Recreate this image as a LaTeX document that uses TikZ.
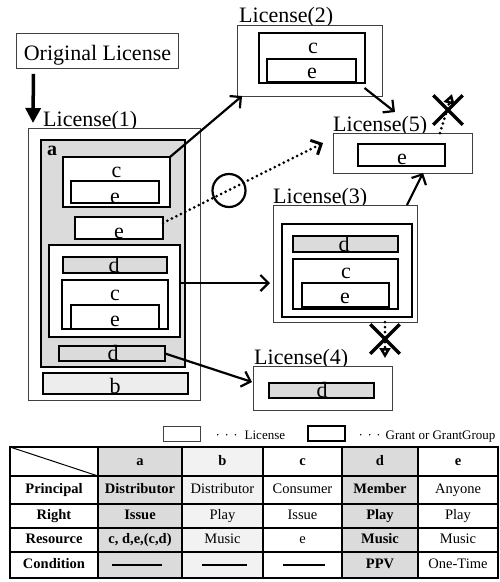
\documentclass[tikz,border=0pt]{standalone}
\usepackage{fontspec}
\setmainfont{Liberation Serif}
\usetikzlibrary{arrows.meta,shapes.misc}
\newcommand\mybox[6]{%
  \pgfmathsetmacro\mybw{#5-#3}\pgfmathsetmacro\mybh{#6-#4}%
  \node[#1,minimum width=\mybw pt,minimum height=\mybh pt,anchor=north west] (#2) at (#3,#4) {};}
\begin{document}
\begin{tikzpicture}[x=1pt,y=-1pt,
  lic/.style={draw=black!75, line width=0.9pt, fill=white, rectangle, inner sep=0pt, outer sep=0pt},
  grant/.style={draw=black, line width=2.4pt, fill=white, rectangle, inner sep=0pt, outer sep=0pt},
  gfill/.style={fill=gray!28},
  bfill/.style={fill=gray!14},
  lt/.style={font=\fontsize{22}{24}\selectfont, inner sep=0pt, anchor=base},
  lbl/.style={font=\fontsize{22}{24}\selectfont, inner sep=0pt, anchor=base west},
  arr/.style={line width=2.2pt, -{Straight Barb[length=8pt,width=16pt]}},
  dots/.style={line width=3pt, dash pattern=on 0pt off 5pt, line cap=round},
  xmark/.style={cross out, draw, line width=3.5pt, minimum width=26pt, minimum height=26pt, inner sep=0pt},
  cell/.style={font=\fontsize{14.5}{16}\selectfont, inner sep=0pt, text height=10pt, text depth=3pt},
  bcell/.style={cell, font=\fontsize{14.5}{16}\selectfont\bfseries},
  leg/.style={font=\fontsize{13}{15}\selectfont, inner sep=0pt, anchor=base west}
]
\useasboundingbox (0,0) rectangle (500,582);

% Original license
\node[draw=black!75, line width=0.9pt, minimum width=162pt, minimum height=35pt, inner sep=0pt,
      text height=19pt, text depth=0pt, font=\fontsize{22}{24}\selectfont, anchor=north west]
      (orig) at (16,33) {Original License};
\coordinate (l1top) at (33,123);
\draw[line width=3.5pt, -{Triangle[length=15pt,width=15pt]}] ([xshift=-64pt,yshift=-5pt]orig.south) -- (l1top);

% License(1)
\node[lbl] (L1lab) at (43,126) {License(1)};
\mybox{lic}{L1}{28}{128}{200}{400}
\mybox{grant,gfill}{ga}{41}{140}{185}{367}
\node[font=\bfseries\fontsize{20}{22}\selectfont, inner sep=0pt, anchor=base west] (alab) at (47,155) {a};
\mybox{grant}{c1}{63}{157}{170}{207}
\node[lt] (c1t) at (116.5,177) {c};
\mybox{grant}{e1i}{71}{181}{159}{203}
\node[lt] (e1it) at (115,203) {e};
\mybox{grant}{e1}{75}{217}{163}{239}
\node[lt] (e1t) at (119,238) {e};
\mybox{grant}{gg1}{49}{245}{180}{337}
\mybox{grant,gfill}{d2}{63}{257}{167}{273}
\node[lt] (d2t) at (114,272) {d};
\mybox{grant}{c3}{62}{280}{168}{329}
\node[lt] (c3t) at (115,300) {c};
\mybox{grant}{e3}{71}{305}{159}{329}
\node[lt] (e3t) at (115,326) {e};
\mybox{grant,gfill}{d4}{59}{346}{165}{361}
\node[lt] (d4t) at (113,360) {d};
\mybox{grant,bfill}{bb}{43}{373}{188}{394}
\node[lt] (bbt) at (115,393) {b};

% License(2)
\node[lbl] (L2lab) at (239,22) {License(2)};
\mybox{lic}{L2}{237}{25}{382}{96}
\mybox{grant}{c5}{259}{33}{365}{83}
\node[lt] (c5t) at (313,53) {c};
\mybox{grant}{e5}{267}{59}{356}{82}
\node[lt] (e5t) at (312,78) {e};

% License(5)
\node[lbl] (L5lab) at (333,131) {License(5)};
\mybox{lic}{L5}{333}{133}{472}{173}
\mybox{grant}{e6}{358}{144}{445}{166}
\node[lt] (e6t) at (402,164) {e};

% License(3)
\node[lbl] (L3lab) at (273,203) {License(3)};
\mybox{lic}{L3}{273}{205}{417}{322}
\mybox{grant}{gg3}{282}{224}{412}{317}
\mybox{grant,gfill}{d7}{293}{236}{398}{252}
\node[lt] (d7t) at (344,251) {d};
\mybox{grant}{c7}{293}{259}{398}{309}
\node[lt] (c7t) at (346,278) {c};
\mybox{grant}{e7}{302}{283}{389}{307}
\node[lt] (e7t) at (345,303) {e};

% License(4)
\node[lbl] (L4lab) at (254,364) {License(4)};
\mybox{lic}{L4}{253}{366}{392}{410}
\mybox{grant,gfill}{d8}{269}{383}{374}{398}
\node[lt] (d8t) at (322,397) {d};

% connectors
\draw[arr] (c1.north east) -- ([xshift=5pt]L2.south west);
\draw[arr] ([xshift=55pt,yshift=8pt]L2.south) -- ([xshift=-7.5pt,yshift=21pt]L5.north);
\draw[dots, -{Straight Barb[length=8pt,width=16pt]}] ([yshift=-6pt]e1.north east) -- ([xshift=-10pt,yshift=10pt]L5.west);
\node[circle, draw, line width=2.2pt, minimum size=33pt, inner sep=0pt] (okc) at (229,190.5) {};
\draw[arr] ([yshift=8pt]gg1.east) -- ([xshift=-3pt,yshift=-19.5pt]L3.west);
\draw[arr] ([xshift=62pt]L3.north) -- ([xshift=20.5pt]L5.south);
\draw[arr] (d4.east) -- ([xshift=-1pt,yshift=6pt]L4.west);

% crossed arrows
\draw[dots, -{Triangle[open,length=10pt,width=11pt]}] ([xshift=37.5pt]L5.north) -- ([xshift=49.5pt,yshift=39pt]L5.north);
\node[xmark] (x5) at (448,110) {};
\draw[dots, -{Triangle[open,length=10pt,width=11pt]}] ([xshift=40pt]L3.south) -- ([xshift=40pt,yshift=-36pt]L3.south);
\node[xmark] (x3) at (385,339) {};

% legend
\mybox{lic}{lgL}{163}{426}{200}{441}
\node[leg] (lgLt) at (215.5,439) {·\hspace{4.5pt}·\hspace{4.5pt}·\hspace{7pt}License};
\mybox{grant,line width=2pt}{lgG}{308}{426}{345}{441}
\node[leg] (lgGt) at (358.5,439) {·\hspace{4.5pt}·\hspace{4.5pt}·\hspace{5pt}Grant or GrantGroup};

% table
\fill[gray!28] (98,447) rectangle (182,578);
\fill[gray!28] (342,447) rectangle (418,578);
\fill[gray!10] (182,447) rectangle (263,578);
\foreach \x in {98,182,263,342,418} \draw[line width=1.2pt] (\x,447) -- (\x,578);
\foreach \y in {476,504,528,552} \draw[line width=1.2pt] (10,\y) -- (498,\y);
\draw[line width=1pt] (10,447) -- (98,476);
\draw[line width=2pt] (10,447) rectangle (498,578);

\node[bcell] (h-a) at (140,461.5) {a};
\node[bcell] (h-b) at (222.5,461.5) {b};
\node[bcell] (h-c) at (302.5,461.5) {c};
\node[bcell] (h-d) at (380,461.5) {d};
\node[bcell] (h-e) at (458,461.5) {e};

\node[bcell] (r1-0) at (54,490) {Principal};
\node[bcell] (r1-a) at (140,490) {Distributor};
\node[cell]  (r1-b) at (222.5,490) {Distributor};
\node[cell]  (r1-c) at (302.5,490) {Consumer};
\node[bcell] (r1-d) at (380,490) {Member};
\node[cell]  (r1-e) at (458,490) {Anyone};

\node[bcell] (r2-0) at (54,516) {Right};
\node[bcell] (r2-a) at (140,516) {Issue};
\node[cell]  (r2-b) at (222.5,516) {Play};
\node[cell]  (r2-c) at (302.5,516) {Issue};
\node[bcell] (r2-d) at (380,516) {Play};
\node[cell]  (r2-e) at (458,516) {Play};

\node[bcell] (r3-0) at (54,540) {Resource};
\node[bcell] (r3-a) at (140,540) {c, d,e,(c,d)};
\node[cell]  (r3-b) at (222.5,540) {Music};
\node[cell]  (r3-c) at (302.5,540) {e};
\node[bcell] (r3-d) at (380,540) {Music};
\node[cell]  (r3-e) at (458,540) {Music};

\node[bcell] (r4-0) at (54,565) {Condition};
\node[cell]  (r4-a) at (137,565) {\rule[3pt]{50pt}{1.2pt}};
\node[cell]  (r4-b) at (224,565) {\rule[3pt]{45pt}{1.2pt}};
\node[cell]  (r4-c) at (304,565) {\rule[3pt]{42pt}{1.2pt}};
\node[bcell] (r4-d) at (380,565) {PPV};
\node[cell]  (r4-e) at (458,565) {One-Time};
\end{tikzpicture}
\end{document}
